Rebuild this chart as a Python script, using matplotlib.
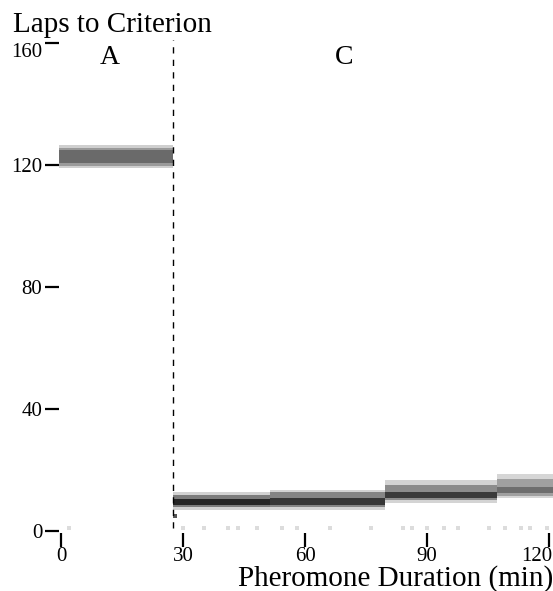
import matplotlib
matplotlib.use("Agg")
import matplotlib.pyplot as plt
from matplotlib.transforms import ScaledTranslation

# ---------------- data ----------------
x_ticks = [0, 30, 60, 90, 120]
y_ticks = [0, 40, 80, 120, 160]
region_labels = ["A", "C"]
region_label_x = [12, 69.6]
region_label_y = 155.4
divider_x = 27.5

# band segments (x start, x end, outer/mid/core bounds in laps)
seg_start = [-0.5, 27.5, 51.4, 79.7, 107.2]
seg_end = [27.5, 51.4, 79.7, 107.2, 121.0]
outer_low = [119.0, 6.9, 6.9, 9.2, 10.8]
outer_high = [126.6, 12.8, 13.6, 16.7, 18.7]
mid_low = [119.8, 7.8, 7.8, 10.0, 11.6]
mid_high = [125.6, 11.8, 12.8, 15.0, 17.0]
core_low = [120.6, 8.5, 8.5, 10.8, 12.5]
core_high = [124.9, 10.5, 10.8, 12.8, 14.4]
outer_col = ["#cfcfcf", "#d2d2d2", "#d4d4d4", "#d4d4d4", "#d6d6d6"]
mid_col = ["#9a9a9a", "#7c7c7c", "#858585", "#8c8c8c", "#a0a0a0"]
core_col = ["#6a6a6a", "#252525", "#363636", "#3a3a3a", "#6e6e6e"]

# faint near-zero points
dot_x = [2.0, 30.0, 35.2, 41.1, 43.5, 48.2, 54.3, 58.0, 66.1, 76.2, 84.1,
         86.3, 90.0, 94.2, 97.6, 105.2, 109.2, 113.1, 115.3, 119.5]
dot_y = [1.0] * len(dot_x)
dark_dot_x = [28.0]
dark_dot_y = [4.9]

# ---------------- figure ----------------
W, H = 553, 591
fig = plt.figure(figsize=(W / 100, H / 100), dpi=100)
left_px, right_px, bottom_px, top_px = 59, 553, 533, 30
ax = fig.add_axes([left_px / W, (H - bottom_px) / H,
                   (right_px - left_px) / W, (bottom_px - top_px) / H])
ax.set_xlim(-0.5, 120.97)
ax.set_ylim(-0.66, 164.3)

for i in range(len(seg_start)):
    w = seg_end[i] - seg_start[i]
    ax.bar(seg_start[i], outer_high[i] - outer_low[i], width=w, bottom=outer_low[i],
           align="edge", color=outer_col[i], linewidth=0, zorder=2)
    ax.bar(seg_start[i], mid_high[i] - mid_low[i], width=w, bottom=mid_low[i],
           align="edge", color=mid_col[i], linewidth=0, zorder=3)
    ax.bar(seg_start[i], core_high[i] - core_low[i], width=w, bottom=core_low[i],
           align="edge", color=core_col[i], linewidth=0, zorder=4)

ax.scatter(dot_x, dot_y, marker="s", s=9, color="#dcdcdc", linewidths=0, zorder=2,
           clip_on=False)
ax.scatter(dark_dot_x, dark_dot_y, marker="s", s=7, color="#555555", linewidths=0,
           zorder=5, clip_on=False)

ax.axvline(divider_x, ymin=0.01, ymax=0.98, color="black", lw=1.0,
           linestyle=(0, (4.5, 4.5)), zorder=6)

for lab, lx in zip(region_labels, region_label_x):
    ax.text(lx, region_label_y, lab, ha="center", va="center",
            fontsize=20, family="Liberation Serif")

for s in ax.spines.values():
    s.set_visible(False)
ax.set_xticks(x_ticks)
ax.set_yticks(y_ticks)
ax.tick_params(axis="both", direction="out", length=10, width=1.6, color="black")
ax.tick_params(axis="x", pad=0.3, labelsize=15)
ax.tick_params(axis="y", pad=2, labelsize=15)
for lab in ax.get_xticklabels() + ax.get_yticklabels():
    lab.set_family("Liberation Serif")
ax.get_yticklabels()[-1].set_verticalalignment("top")
last_x = ax.get_xticklabels()[-1]
last_x.set_horizontalalignment("right")
last_x.set_transform(last_x.get_transform() + ScaledTranslation(3 / 100, 0, fig.dpi_scale_trans))

fig.text(13 / W, 1 - 32 / H, "Laps to Criterion", ha="left", va="baseline",
         fontsize=21, family="Liberation Serif")
fig.text(553 / W, 1 - 586 / H, "Pheromone Duration (min)", ha="right",
         va="baseline", fontsize=21, family="Liberation Serif")

fig.savefig("out.png", dpi=100)
